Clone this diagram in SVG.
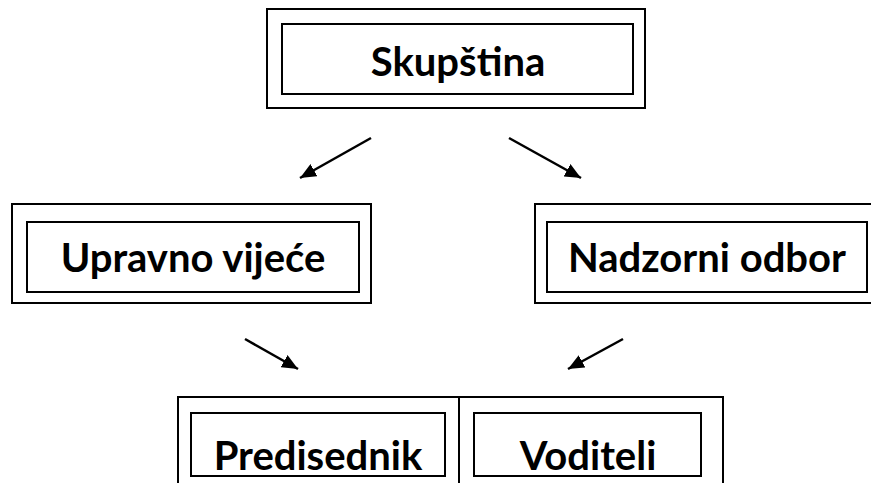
<svg xmlns="http://www.w3.org/2000/svg" width="871" height="483" viewBox="0 0 871 483">
<style>
.box{fill:none;stroke:#000;stroke-width:2}
.lbl{font-family:Lato,"Liberation Sans",sans-serif;font-weight:bold;font-size:40px;fill:#000;text-anchor:middle}
.arr{stroke:#000;stroke-width:2.5;fill:none;marker-end:url(#ah)}
</style>
<defs>
<marker id="ah" markerUnits="userSpaceOnUse" markerWidth="17" markerHeight="14" refX="16" refY="7" orient="auto">
<path d="M0,0 L16,7 L0,14 z" fill="#000"/>
</marker>
</defs>
<rect width="871" height="483" fill="#fff"/>
<g id="skupstina">
<rect class="box" x="267" y="9" width="378" height="99"/>
<rect class="box" x="282" y="24" width="351" height="70"/>
<text class="lbl" x="458" y="76">Skupština</text>
</g>
<g id="upravno">
<rect class="box" x="12" y="204" width="359" height="99"/>
<rect class="box" x="27" y="222" width="332" height="70"/>
<text class="lbl" x="193" y="272">Upravno vijeće</text>
</g>
<g id="nadzorni">
<rect class="box" x="535" y="204" width="345" height="99"/>
<rect class="box" x="547" y="222" width="320" height="70"/>
<text class="lbl" x="707" y="272">Nadzorni odbor</text>
</g>
<g id="predisednik">
<rect class="box" x="178" y="397" width="281" height="100"/>
<rect class="box" x="191" y="413" width="254" height="63"/>
<text class="lbl" x="318" y="470">Predisednik</text>
</g>
<g id="voditeli">
<rect class="box" x="459" y="397" width="264" height="100"/>
<rect class="box" x="474" y="413" width="227" height="63"/>
<text class="lbl" x="588" y="470">Voditeli</text>
</g>
<g id="connectors">
<line class="arr" x1="371" y1="138" x2="300" y2="178"/>
<line class="arr" x1="509" y1="138" x2="581" y2="178"/>
<line class="arr" x1="245" y1="339" x2="298" y2="369"/>
<line class="arr" x1="623" y1="339" x2="568" y2="369"/>
</g>
</svg>
